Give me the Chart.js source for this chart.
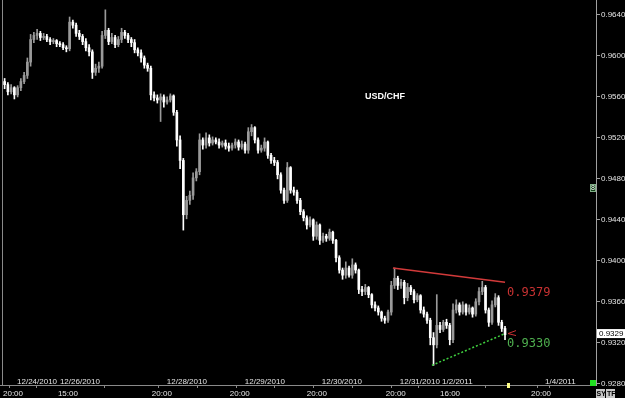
<!DOCTYPE html>
<html><head><meta charset="utf-8">
<script src="https://cdn.jsdelivr.net/npm/chart.js@4.4.0/dist/chart.umd.min.js"></script>
<style>html,body{margin:0;padding:0;background:#000;overflow:hidden}canvas{display:block}</style>
</head><body>
<canvas id="c" width="625" height="398"></canvas>
<script>
// ---- data (hourly USD/CHF candles, slot index = position on the time axis) ----
const opens = [0.9575,0.9572,0.9565,0.9569,0.9562,0.9569,0.9575,0.9581,0.9594,0.9616,
0.9620,0.9622,0.9618,0.9619,0.9616,0.9614,0.9615,0.9612,0.9611,0.9608,
0.9607,0.9633,0.9630,0.9622,0.9619,0.9614,0.9608,0.9604,0.9584,0.9588,
0.9590,0.9620,0.9625,0.9614,0.9618,0.9611,0.9616,0.9623,0.9620,0.9616,
0.9613,0.9606,0.9603,0.9598,0.9591,0.9588,0.9562,0.9559,0.9557,0.9560,
0.9555,0.9557,0.9561,0.9545,0.9518,0.9498,0.9445,0.9459,0.9464,0.9481,
0.9487,0.9518,0.9513,0.9520,0.9515,0.9518,0.9516,0.9513,0.9515,0.9512,
0.9510,0.9513,0.9516,0.9511,0.9514,0.9508,0.9526,0.9530,0.9518,0.9508,
0.9510,0.9516,0.9503,0.9498,0.9496,0.9484,0.9469,0.9459,0.9491,0.9469,
0.9467,0.9459,0.9448,0.9442,0.9435,0.9440,0.9424,0.9435,0.9420,0.9424,
0.9422,0.9428,0.9420,0.9403,0.9391,0.9386,0.9393,0.9386,0.9396,0.9391,
0.9372,0.9370,0.9374,0.9367,0.9357,0.9354,0.9350,0.9344,0.9342,0.9350,
0.9376,0.9383,0.9376,0.9379,0.9364,0.9374,0.9370,0.9362,0.9366,0.9352,
0.9348,0.9342,0.9325,0.9318,0.9337,0.9333,0.9340,0.9337,0.9323,0.9352,
0.9357,0.9350,0.9357,0.9350,0.9354,0.9348,0.9360,0.9370,0.9374,0.9352,
0.9340,0.9357,0.9364,0.9340,0.9334];
const highs = [0.9578,0.9574,0.9572,0.9570,0.9571,0.9578,0.9584,0.9598,0.9621,0.9623,
0.9626,0.9624,0.9622,0.9621,0.9618,0.9617,0.9616,0.9614,0.9613,0.9610,
0.9638,0.9635,0.9632,0.9625,0.9621,0.9617,0.9611,0.9606,0.9592,0.9594,
0.9624,0.9645,0.9627,0.9622,0.9620,0.9619,0.9627,0.9625,0.9622,0.9618,
0.9616,0.9608,0.9606,0.9600,0.9593,0.9590,0.9565,0.9562,0.9563,0.9562,
0.9560,0.9563,0.9562,0.9547,0.9522,0.9500,0.9463,0.9468,0.9486,0.9490,
0.9524,0.9520,0.9525,0.9523,0.9521,0.9520,0.9519,0.9517,0.9518,0.9515,
0.9515,0.9519,0.9518,0.9517,0.9516,0.9530,0.9533,0.9531,0.9520,0.9513,
0.9520,0.9517,0.9505,0.9501,0.9498,0.9486,0.9471,0.9496,0.9492,0.9472,
0.9469,0.9461,0.9450,0.9444,0.9443,0.9441,0.9438,0.9436,0.9427,0.9426,
0.9431,0.9429,0.9421,0.9405,0.9393,0.9399,0.9395,0.9402,0.9398,0.9392,
0.9375,0.9377,0.9375,0.9368,0.9360,0.9356,0.9351,0.9346,0.9352,0.9380,
0.9393,0.9385,0.9382,0.9381,0.9378,0.9376,0.9372,0.9368,0.9367,0.9355,
0.9350,0.9344,0.9330,0.9367,0.9340,0.9342,0.9343,0.9339,0.9358,0.9362,
0.9359,0.9360,0.9358,0.9357,0.9355,0.9363,0.9374,0.9380,0.9376,0.9354,
0.9361,0.9368,0.9366,0.9342,0.9336];
const lows = [0.9568,0.9562,0.9563,0.9558,0.9560,0.9566,0.9573,0.9578,0.9590,0.9613,
0.9616,0.9615,0.9616,0.9614,0.9611,0.9612,0.9609,0.9609,0.9606,0.9604,
0.9605,0.9627,0.9619,0.9616,0.9611,0.9605,0.9600,0.9578,0.9581,0.9584,
0.9588,0.9617,0.9611,0.9612,0.9608,0.9609,0.9613,0.9617,0.9613,0.9609,
0.9603,0.9600,0.9594,0.9588,0.9585,0.9557,0.9556,0.9554,0.9536,0.9550,
0.9553,0.9555,0.9542,0.9512,0.9490,0.9430,0.9441,0.9455,0.9460,0.9478,
0.9484,0.9509,0.9510,0.9512,0.9513,0.9514,0.9510,0.9511,0.9509,0.9507,
0.9508,0.9510,0.9508,0.9509,0.9505,0.9505,0.9522,0.9515,0.9505,0.9506,
0.9507,0.9500,0.9495,0.9493,0.9480,0.9466,0.9456,0.9457,0.9466,0.9464,
0.9456,0.9445,0.9439,0.9431,0.9433,0.9420,0.9421,0.9416,0.9418,0.9419,
0.9420,0.9417,0.9399,0.9388,0.9382,0.9383,0.9384,0.9383,0.9388,0.9368,
0.9366,0.9367,0.9364,0.9354,0.9351,0.9347,0.9341,0.9339,0.9340,0.9347,
0.9373,0.9372,0.9373,0.9358,0.9361,0.9367,0.9359,0.9360,0.9349,0.9345,
0.9339,0.9318,0.9298,0.9315,0.9330,0.9331,0.9334,0.9318,0.9320,0.9349,
0.9347,0.9348,0.9347,0.9348,0.9345,0.9346,0.9357,0.9367,0.9349,0.9336,
0.9338,0.9355,0.9337,0.9331,0.9323];
const closes = [0.9572,0.9565,0.9569,0.9562,0.9569,0.9575,0.9581,0.9594,0.9616,0.9620,
0.9622,0.9618,0.9619,0.9616,0.9614,0.9615,0.9612,0.9611,0.9608,0.9607,
0.9633,0.9630,0.9622,0.9619,0.9614,0.9608,0.9604,0.9584,0.9588,0.9590,
0.9620,0.9625,0.9614,0.9618,0.9611,0.9616,0.9623,0.9620,0.9616,0.9613,
0.9606,0.9603,0.9598,0.9591,0.9588,0.9562,0.9559,0.9557,0.9560,0.9555,
0.9557,0.9561,0.9545,0.9518,0.9498,0.9445,0.9459,0.9464,0.9481,0.9487,
0.9518,0.9513,0.9520,0.9515,0.9518,0.9516,0.9513,0.9515,0.9512,0.9510,
0.9513,0.9516,0.9511,0.9514,0.9508,0.9526,0.9530,0.9518,0.9508,0.9510,
0.9516,0.9503,0.9498,0.9496,0.9484,0.9469,0.9459,0.9491,0.9469,0.9467,
0.9459,0.9448,0.9442,0.9435,0.9440,0.9424,0.9435,0.9420,0.9424,0.9422,
0.9428,0.9420,0.9403,0.9391,0.9386,0.9393,0.9386,0.9396,0.9391,0.9372,
0.9370,0.9374,0.9367,0.9357,0.9354,0.9350,0.9344,0.9342,0.9350,0.9376,
0.9383,0.9376,0.9379,0.9364,0.9374,0.9370,0.9362,0.9366,0.9352,0.9348,
0.9342,0.9325,0.9318,0.9337,0.9333,0.9340,0.9337,0.9323,0.9352,0.9357,
0.9350,0.9357,0.9350,0.9354,0.9348,0.9360,0.9370,0.9374,0.9352,0.9340,
0.9357,0.9364,0.9340,0.9334,0.9328];

const timeTickPos = [-0.5, 16.4, 45.3, 69.3, 93.0, 117.3, 134.0, 162.0];
const timeTickLabels = ['20:00','15:00','20:00','20:00','20:00','20:00','16:00','20:00'];
const dateTickPos = [3.2, 16.4, 49.3, 73.3, 97.0, 121.0, 134.0, 165.7];
const dateTickLabels = ['12/24/2010','12/26/2010','12/28/2010','12/29/2010','12/30/2010','12/31/2010','1/2/2011','1/4/2011'];
const priceTicks = [0.9280,0.9320,0.9360,0.9400,0.9440,0.9480,0.9520,0.9560,0.9600,0.9640];

const resistanceX = [119.5, 154];
const resistanceY = [0.9393, 0.9379];
const supportX = [131.5, 154];
const supportY = [0.9298, 0.9329];
const resistanceLabel = '0.9379';
const supportLabel = '0.9330';
const lastPrice = 0.9329;
const symbolTitle = 'USD/CHF';

// ---- styling ----
const AX_FONT = "'Liberation Sans',Arial,sans-serif";
const UP = '#9a9a9a', DOWN = '#ffffff';
const candleColors = closes.map((c, i) => c >= opens[i] ? UP : DOWN);

const wickData = lows.map((l, i) => ({x: i, y: [l, highs[i]]}));
const bodyData = opens.map((o, i) => ({x: i, y: [o, closes[i]]}));

const decor = {
  id: 'decor',
  afterDraw(chart) {
    const ctx = chart.ctx, xs = chart.scales.x, ys = chart.scales.y, a = chart.chartArea;
    ctx.save();
    // left frame line and axis extension
    ctx.strokeStyle = '#8a8a8a'; ctx.lineWidth = 1;
    ctx.beginPath(); ctx.moveTo(2.5, 0); ctx.lineTo(2.5, a.bottom); ctx.stroke();
    ctx.beginPath(); ctx.moveTo(0, a.bottom + 0.5); ctx.lineTo(a.left, a.bottom + 0.5); ctx.stroke();
    // date labels (upper row, inside plot)
    ctx.font = '8px ' + AX_FONT; ctx.fillStyle = '#e4e4e4';
    ctx.textAlign = 'left'; ctx.textBaseline = 'alphabetic';
    dateTickPos.forEach((v, i) => ctx.fillText(dateTickLabels[i], xs.getPixelForValue(v) + 2, a.bottom - 1));
    // title
    ctx.font = "bold 9px 'Liberation Sans',Arial,sans-serif"; ctx.fillStyle = '#ffffff';
    ctx.fillText(symbolTitle, 365, 99);
    // trendline value labels
    const lx = xs.getPixelForValue(resistanceX[1]) + 2;
    ctx.font = "12px 'DejaVu Sans Mono',monospace";
    ctx.fillStyle = '#c83232';
    ctx.fillText(resistanceLabel, lx, ys.getPixelForValue(parseFloat(resistanceLabel)) + 14);
    ctx.fillStyle = '#4fb04f';
    ctx.fillText(supportLabel, lx, ys.getPixelForValue(parseFloat(supportLabel)) + 14);
    // small red marker
    const my = ys.getPixelForValue(lastPrice);
    ctx.strokeStyle = '#c83232'; ctx.lineWidth = 1;
    ctx.beginPath(); ctx.moveTo(lx + 9, my - 3); ctx.lineTo(lx + 1, my); ctx.lineTo(lx + 9, my + 2); ctx.stroke();
    // last price box on axis
    ctx.fillStyle = '#ffffff'; ctx.fillRect(a.right + 1, my - 4.5, 28, 9);
    ctx.fillStyle = '#000000'; ctx.font = '8px ' + AX_FONT; ctx.textBaseline = 'middle';
    ctx.fillText(lastPrice.toFixed(4), a.right + 3, my + 0.5);
    // small "8" box
    ctx.fillStyle = '#0f3d14'; ctx.fillRect(590, 184, 6, 8);
    ctx.strokeStyle = '#7fae86'; ctx.strokeRect(590.5, 184.5, 5, 7);
    ctx.fillStyle = '#ffffff'; ctx.font = "7px 'Liberation Sans',Arial"; ctx.fillText('8', 591, 188.5);
    // green square
    ctx.fillStyle = '#22e022'; ctx.fillRect(590, 380, 6, 6);
    // yellow marker on x axis
    ctx.fillStyle = '#ffff88'; ctx.fillRect(507, 383, 3, 5);
    // SY / TF boxes
    ctx.fillStyle = '#c8c8c8'; ctx.fillRect(596, 389, 9, 9); ctx.fillRect(606, 389, 9, 9);
    ctx.fillStyle = '#000000'; ctx.font = "bold 7px 'Liberation Sans',Arial";
    ctx.textBaseline = 'alphabetic';
    ctx.fillText('SY', 596.5, 396); ctx.fillText('TF', 607, 396);
    ctx.restore();
  }
};

const allXTicks = Array.from(new Set(timeTickPos.concat(dateTickPos))).sort((p, q) => p - q);

new Chart(document.getElementById('c'), {
  data: {
    datasets: [
      {type: 'line', data: resistanceX.map((x, i) => ({x, y: resistanceY[i]})), borderColor: '#d23a3a',
       borderWidth: 1.5, pointRadius: 0, order: 0},
      {type: 'line', data: supportX.map((x, i) => ({x, y: supportY[i]})), borderColor: '#3fd03f',
       borderWidth: 1.5, borderDash: [2, 2], pointRadius: 0, order: 0},
      {type: 'bar', data: bodyData, backgroundColor: candleColors, barThickness: 2, grouped: false,
       minBarLength: 1, borderWidth: 0, order: 1},
      {type: 'bar', data: wickData, backgroundColor: candleColors, barThickness: 1, grouped: false,
       borderWidth: 0, order: 2}
    ]
  },
  options: {
    responsive: false, animation: false, devicePixelRatio: 1,
    layout: {padding: {left: 3, top: 0, right: 0, bottom: 0}},
    plugins: {legend: {display: false}, tooltip: {enabled: false}, title: {display: false}},
    scales: {
      x: {
        type: 'linear', position: 'bottom', min: -0.5, max: 182, offset: false,
        afterBuildTicks: s => { s.ticks = allXTicks.map(v => ({value: v})); },
        afterFit: s => { s.height = 13; s.paddingLeft = 0; s.paddingRight = 0; },
        ticks: {
          autoSkip: false, maxRotation: 0, minRotation: 0, align: 'start', padding: 1,
          color: '#e4e4e4', font: {family: AX_FONT, size: 8},
          callback: v => { const k = timeTickPos.indexOf(v); return k >= 0 ? timeTickLabels[k] : ''; }
        },
        grid: {drawOnChartArea: false, drawTicks: true, tickLength: 3, color: '#8a8a8a'},
        border: {display: true, color: '#8a8a8a'}
      },
      y: {
        type: 'linear', position: 'right', min: 0.92788, max: 0.96546,
        afterBuildTicks: s => { s.ticks = priceTicks.map(v => ({value: v})); },
        afterFit: s => { s.width = 29; s.paddingTop = 0; s.paddingBottom = 0; },
        ticks: {color: '#e4e4e4', font: {family: AX_FONT, size: 8}, padding: 1,
                callback: v => v.toFixed(4)},
        grid: {drawOnChartArea: false, drawTicks: true, tickLength: 4, color: '#a0a0a0'},
        border: {display: true, color: '#a0a0a0'}
      }
    }
  },
  plugins: [decor]
});
</script>
</body></html>
